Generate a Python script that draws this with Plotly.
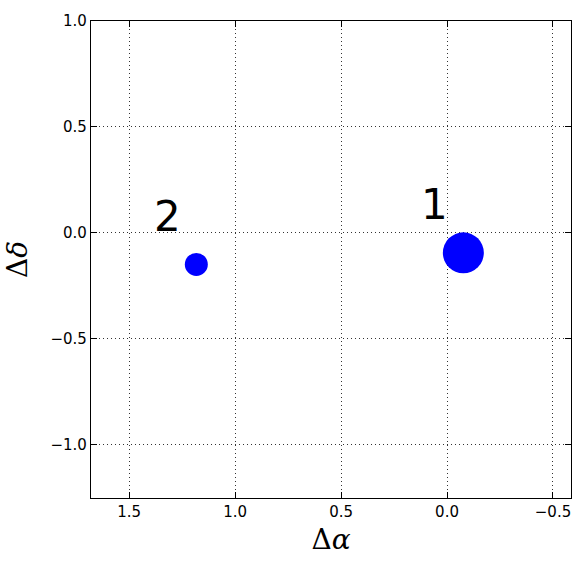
import plotly.graph_objects as go

# data
labels = ["1", "2"]
delta_alpha = [-0.077, 1.183]
delta_delta = [-0.095, -0.150]
marker_diam = [41, 23]
label_x = [0.061, 1.32]
label_y = [0.134, 0.078]

x_ticks = [1.5, 1.0, 0.5, 0.0, -0.5]
x_ticklabels = ["1.5", "1.0", "0.5", "0.0", "\u22120.5"]
y_ticks = [1.0, 0.5, 0.0, -0.5, -1.0]
y_ticklabels = ["1.0", "0.5", "0.0", "\u22120.5", "\u22121.0"]

fig = go.Figure()
fig.add_trace(go.Scatter(
    x=delta_alpha, y=delta_delta, mode="markers",
    marker=dict(size=marker_diam, color="#0000ff", opacity=1, line=dict(width=0)),
    showlegend=False, hoverinfo="skip"))

for t, lx, ly in zip(labels, label_x, label_y):
    fig.add_annotation(x=lx, y=ly, text=t, showarrow=False,
                       xanchor="center", yanchor="middle",
                       font=dict(size=42, color="black", family="DejaVu Sans"))

axis_common = dict(
    showline=True, linecolor="black", linewidth=1.2, mirror="allticks",
    ticks="inside", ticklen=6, tickcolor="black", tickwidth=1,
    showgrid=True, gridcolor="#333333", griddash="1px,3px", gridwidth=1,
    zeroline=False,
    tickfont=dict(family="DejaVu Sans", size=15, color="black"),
)

fig.update_xaxes(range=[1.68, -0.585], tickvals=x_ticks, ticktext=x_ticklabels,
                 title=dict(text="Δ<i>α</i>", font=dict(family="DejaVu Serif", size=28, color="black"), standoff=9),
                 **axis_common)
fig.update_yaxes(range=[-1.253, 1.0], tickvals=y_ticks, ticktext=y_ticklabels,
                 title=dict(text="Δ<i>δ</i>", font=dict(family="DejaVu Serif", size=28, color="black"), standoff=14),
                 **axis_common)

fig.update_layout(
    width=584, height=566,
    margin=dict(l=91, r=12, t=18, b=68),
    plot_bgcolor="white", paper_bgcolor="white",
)

fig.write_html("out.html", config={"displayModeBar": False},
               post_script="document.body.style.margin='0';document.body.style.overflow='hidden';")
